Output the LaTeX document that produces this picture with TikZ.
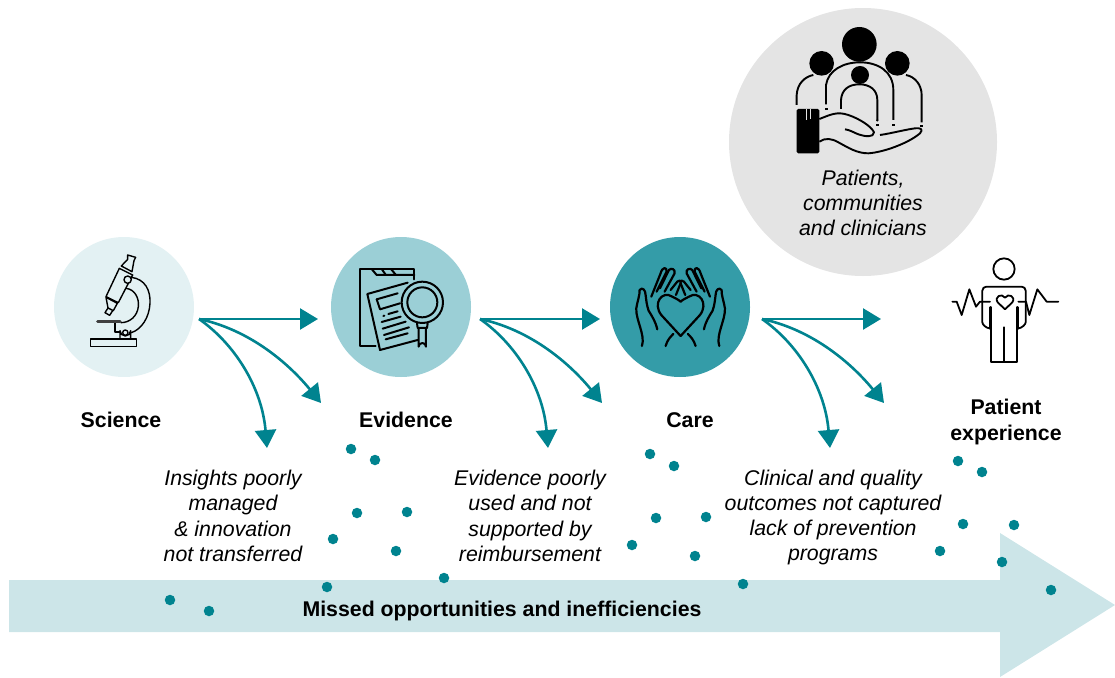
\documentclass[tikz,border=0pt]{standalone}
\usepackage{fontspec}
\setmainfont{Liberation Sans}
\usetikzlibrary{arrows.meta}
\definecolor{teal1}{HTML}{00838F}
\definecolor{pale}{HTML}{E3F1F3}
\definecolor{midc}{HTML}{9BCFD6}
\definecolor{deep}{HTML}{349CA8}
\definecolor{band}{HTML}{CCE5E8}
\definecolor{greyc}{HTML}{E4E4E4}
\tikzset{
  disc/.style={circle,inner sep=0pt,minimum size=140pt},
  lab/.style={font=\fontsize{21.3}{25.3}\selectfont\bfseries,align=center,inner sep=0pt},
  note/.style={font=\fontsize{21.3}{25.3}\selectfont\itshape,align=center,inner sep=0pt},
  flow/.style={teal1,line width=2.6pt,-{Triangle[length=18pt,width=21pt]}},
  dot/.style={circle,fill=teal1,inner sep=0pt,minimum size=10.5pt},
  ic/.style={black,line cap=round,line join=round,line width=2pt},
  tiny/.style={x=.3333pt,y=-.3333pt}
}
\begin{document}
\begin{tikzpicture}[x=1pt,y=-1pt]
\useasboundingbox (0,0) rectangle (1115,677);
% big arrow
\fill[band] (9,580) -- (1000,580) -- (1000,533) -- (1115,605) -- (1000,677) -- (1000,632) -- (9,632) -- cycle;
% discs
\node[disc,fill=pale] (sci) at (124,307) {};
\node[disc,fill=midc] (evi) at (401,307) {};
\node[disc,fill=deep] (car) at (680,307) {};
\node[circle,inner sep=0pt,minimum size=268pt,fill=greyc] (pat) at (863,142) {};
% connectors
\foreach \n/\xa/\xb/\xc/\xd in {a/199/318/321/267, b/480/600/602/548, c/762/881/884/830}{
  \coordinate (s\n) at (\xa,319);
  \coordinate (h\n) at (\xb,319);
  \coordinate (g\n) at (\xc,403);
  \coordinate (d\n) at (\xd,448);
  \draw[flow] (s\n) -- (h\n);
  \draw[flow] (s\n) .. controls +(52,11) and +(-31,-38) .. (g\n);
  \draw[flow] (s\n) .. controls +(36,25) and +(-5,-60) .. (d\n);
}
% dots
\foreach \i/\x/\y in {1/351/449,2/375/460,3/357/513,4/407/512,5/333/539,6/396/551,7/327/587,8/444/578,9/170/600,10/209/611,11/650/454,12/674/466,13/656/518,14/706/517,15/632/545,16/695/556,17/743/584,18/958/461,19/982/472,20/963/524,21/1014/525,22/940/551,23/1002/562,24/1051/590}
  \node[dot] (dot\i) at (\x,\y) {};
% labels
\node[lab] (l1) at (121,420) {Science};
\node[lab] (l2) at (406,420) {Evidence};
\node[lab] (l3) at (690,420) {Care};
\node[lab] (l4) at (1006,422) {Patient\\experience};
\node[lab] (l5) at (502,611) {Missed opportunities and inefficiencies};
\node[note] (n1) at (233,516) {Insights poorly\\managed\\\&\ innovation\\not transferred};
\node[note] (n2) at (530,516) {Evidence poorly\\used and not\\supported by\\reimbursement};
\node[note] (n3) at (833,517.5) {Clinical and quality\\outcomes not captured\\lack of prevention\\programs};
\node[note] (n4) at (863,203) {Patients,\\communities\\and clinicians};
% microscope
\begin{scope}[shift={(60,240)},tiny,ic,line width=1.4pt]
  \draw (178,85) -- (218,105) -- (175,188) -- (138,170) -- cycle;
  \draw (138,172) -- (172,190) -- (160,212) -- (144,204) -- cycle;
  \draw (144,204) -- (135,218) -- (149,226) -- (158,212);
  \draw (184,78) -- (216,95) -- (222,62) -- (227,52) -- (203,45) -- (203,58) -- cycle;
  \draw (215,112) .. controls (255,118) and (272,150) .. (270,190) .. controls (268,232) and (245,268) .. (214,278);
  \draw (198,145) .. controls (225,148) and (238,175) .. (235,200) .. controls (232,228) and (210,248) .. (183,248);
  \draw (165,250) -- (165,276) -- (180,276);
  \draw (180,297) -- (180,272) arc[start angle=180,end angle=0,x radius=16,y radius=16] -- (212,297);
  \draw (196,278) circle[radius=8];
  \draw[fill=pale] (203,119) circle[radius=11];
  \draw (92,297) rectangle (230,319);
  \draw[line width=3.2pt,draw=black!75] (113,244) -- (180,244);
\end{scope}
% evidence
\begin{scope}[shift={(335,240)},tiny,ic]
  \draw (122,317) -- (75,317) -- (75,87) -- (238,87) -- (238,118);
  \draw (110,87) -- (125,105) -- (238,105);
  \draw (140,87) -- (152,104);
  \draw (168,87) -- (182,104);
  \draw (218,128) -- (97,162) -- (135,330) -- (248,300);
  \draw (125,178) -- (188,160);
  \draw (125,178) -- (135,208) -- (195,190);
  \draw (160,222) -- (188,214);
  \draw (145,228) -- (148,227);
  \draw (140,246) -- (197,230);
  \draw (143,266) -- (212,245);
  \draw (147,285) -- (222,262);
  \draw (152,298) -- (218,280);
  \draw[fill=midc] (262,187) circle[radius=62];
  \draw (262,187) circle[radius=45];
  \draw (246,250) -- (248,264) -- (276,264) -- (278,250);
  \draw (251,264) -- (251,320) arc[start angle=180,end angle=360,radius=11] -- (273,264);
\end{scope}
% care
\begin{scope}[shift={(680.6,240)},tiny,ic,line width=2.2pt]
  \foreach \s in {-1,1}{
   \begin{scope}[xscale=\s]
    \draw (0,288) -- (-58,225) .. controls (-85,190) and (-55,150) .. (-25,170) .. controls (-15,175) and (-5,180) .. (0,185);
    \draw (-116,318) .. controls (-105,285) and (-135,240) .. (-133,205) .. controls (-130,185) and (-122,165) .. (-123,150) .. controls (-115,140) and (-105,150) .. (-105,165) .. controls (-103,180) and (-102,195) .. (-96,212) .. controls (-85,230) and (-75,245) .. (-70,268);
    \draw (-88,170) -- (-60,100) .. controls (-55,80) and (-40,80) .. (-42,95) -- (-72,155);
    \draw (-62,145) -- (-35,90) .. controls (-28,82) and (-15,88) .. (-18,100) -- (-48,155);
    \draw (-30,150) -- (-10,125) .. controls (-8,120) and (3,120) .. (0,130) -- (-14,165);
    \draw (-45,318) .. controls (-40,300) and (-30,290) .. (-22,282);
   \end{scope}}
\end{scope}
% patients
\begin{scope}[shift={(780,15)},tiny,ic,line width=1.9pt,line cap=butt]
  \fill (238,88) circle[radius=52];
  \fill (125,145) circle[radius=37];
  \fill (352,145) circle[radius=37];
  \draw (50,270) -- (50,240) .. controls (52,205) and (75,185) .. (100,180);
  \draw (378,180) .. controls (405,185) and (425,210) .. (425,240) -- (425,322);
  \draw[fill=greyc] (138,268) -- (138,210) .. controls (145,165) and (190,142) .. (240,142) .. controls (295,142) and (340,170) .. (340,225) -- (340,315);
  \draw (183,282) -- (183,255) .. controls (185,225) and (205,208) .. (238,208) .. controls (270,208) and (292,225) .. (292,255) -- (292,315);
  \fill (240,180) circle[radius=27];
  \fill[rounded corners=1.5pt] (50,282) rectangle (118,415);
  \draw[greyc,line width=1pt] (80,282) -- (80,316);
  \draw[greyc,line width=1pt] (90,282) -- (90,312);
  \fill (135,279) rectangle (143,285);
  \fill (288,328) rectangle (296,334);
  \fill (336,326) rectangle (345,332);
  \fill (421,329) rectangle (430,335);
  \fill (292,316) circle[radius=4];
  \draw (118,312) .. controls (150,300) and (170,288) .. (205,300) .. controls (240,312) and (275,335) .. (282,352) .. controls (282,368) and (255,365) .. (235,358) .. controls (220,352) and (210,345) .. (195,343);
  \draw (118,380) .. controls (135,368) and (155,370) .. (175,382) .. controls (205,398) and (230,415) .. (265,415) .. controls (310,412) and (385,385) .. (420,355) .. controls (432,342) and (420,338) .. (405,340) .. controls (370,345) and (335,355) .. (300,360);
\end{scope}
% patient experience
\begin{scope}[shift={(940,250)},tiny,ic,line width=1.8pt]
  \draw (192,57) circle[radius=32];
  \draw[rounded corners=4pt] (152,236) .. controls (135,234) and (127,222) .. (127,205) -- (127,110) -- (257,110) -- (257,205) .. controls (257,222) and (248,234) .. (232,236);
  \draw (152,172) -- (152,335) -- (232,335) -- (232,172);
  \draw[line width=2.2pt] (191,232) -- (191,335);
  \draw[line width=2.6pt] (152,172) -- (152,236);
  \draw[line width=2.6pt] (232,172) -- (232,236);
  \draw (37,155) -- (50,155) -- (65,195) -- (88,118) -- (108,170) -- (120,155) -- (150,155);
  \draw (235,155) -- (258,155) -- (268,195) -- (292,118) -- (320,155) -- (355,155);
  \draw (195,178) -- (173,157) .. controls (162,140) and (185,128) .. (195,143) .. controls (205,128) and (228,140) .. (217,157) -- cycle;
\end{scope}
\end{tikzpicture}
\end{document}
